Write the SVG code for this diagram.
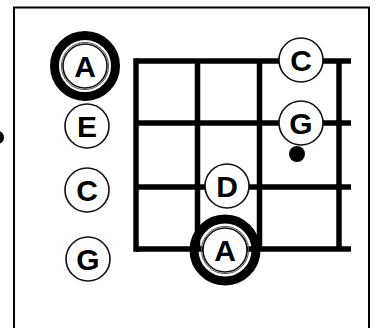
<svg xmlns="http://www.w3.org/2000/svg" width="376" height="328" viewBox="0 0 376 328">
<style>
.frame{fill:none;stroke:#000;stroke-width:2}
.grid line{stroke:#000;stroke-width:5.5;stroke-linecap:butt}
.note{fill:#fff;stroke:#111;stroke-width:1.6}
.inner{fill:none;stroke:#555;stroke-width:1}
.ring{fill:none;stroke:#000;stroke-width:9}
.lbl{font-family:"Liberation Sans",Arial,sans-serif;font-weight:bold;font-size:30px;fill:#000;text-anchor:middle}
</style>
<rect width="376" height="328" fill="#fff"/>
<rect class="frame" x="14" y="7.5" width="355" height="330"/>
<ellipse cx="-1" cy="137.5" rx="5" ry="6" fill="#000"/>
<g id="connectors" class="grid">
<line x1="136" y1="61" x2="351" y2="61"/>
<line x1="136" y1="123" x2="351" y2="123"/>
<line x1="136" y1="187" x2="351" y2="187"/>
<line x1="136" y1="249" x2="351" y2="249"/>
<line x1="136" y1="58.25" x2="136" y2="251.75"/>
<line x1="197.5" y1="61" x2="197.5" y2="249"/>
<line x1="259.5" y1="61" x2="259.5" y2="249"/>
<line x1="339" y1="61" x2="339" y2="249"/>
</g>
<g id="open-A">
<circle class="ring" cx="85" cy="66" r="30.5"/>
<circle class="note" cx="85" cy="66" r="22"/>
<circle class="inner" cx="85" cy="66" r="23.6"/>
<text class="lbl" x="85" y="76.5">A</text>
</g>
<g id="open-E">
<circle class="note" cx="87" cy="126" r="22"/>
<text class="lbl" x="87" y="136.5">E</text>
</g>
<g id="open-C">
<circle class="note" cx="87" cy="190" r="22"/>
<text class="lbl" x="87" y="200.5">C</text>
</g>
<g id="open-G">
<circle class="note" cx="88" cy="259" r="22"/>
<text class="lbl" x="88" y="269.5">G</text>
</g>
<g id="fret-C">
<circle class="note" cx="301" cy="60" r="22"/>
<text class="lbl" x="301" y="70.5">C</text>
</g>
<g id="fret-G">
<circle class="note" cx="301" cy="123" r="22"/>
<text class="lbl" x="301" y="133.5">G</text>
</g>
<g id="dot">
<circle cx="297" cy="154" r="8" fill="#000"/>
</g>
<g id="fret-D">
<circle class="note" cx="227" cy="186" r="22"/>
<text class="lbl" x="227" y="196.5">D</text>
</g>
<g id="fret-A">
<circle class="ring" cx="225" cy="250" r="31"/>
<circle class="note" cx="225" cy="250" r="22"/>
<circle class="inner" cx="225" cy="250" r="23.6"/>
<text class="lbl" x="225" y="260.5">A</text>
</g>
</svg>
